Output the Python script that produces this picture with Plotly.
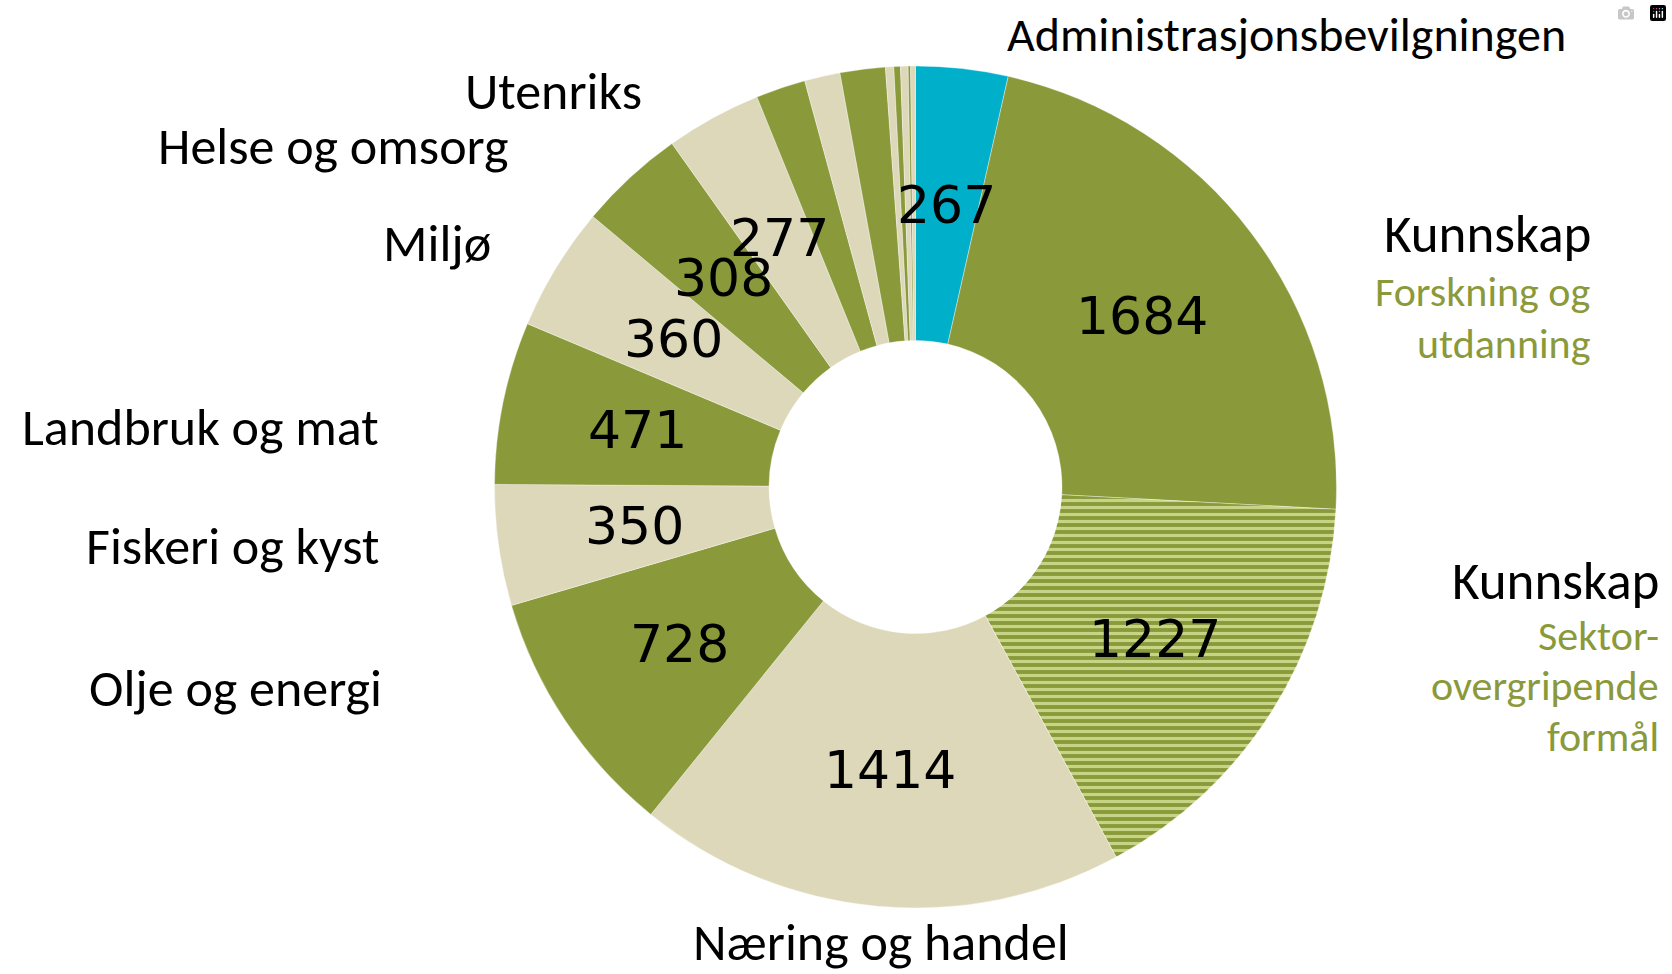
import numpy as np
import plotly.graph_objects as go

# ---- data (clockwise from 12 o'clock) ----
slice_names = ["Administrasjonsbevilgningen", "Kunnskap – Forskning og utdanning",
               "Kunnskap – Sektorovergripende formål", "Næring og handel", "Olje og energi",
               "Fiskeri og kyst", "Landbruk og mat", "Miljø", "Helse og omsorg", "Utenriks",
               "Øvrig 1", "Øvrig 2", "Øvrig 3", "Øvrig 4", "Øvrig 5", "Øvrig 6", "Øvrig 7", "Øvrig 8"]
slice_values = [267, 1684, 1227, 1414, 728, 350, 471, 360, 308, 277,
                144, 103, 131, 24, 19, 22, 7, 14]
value_labels = ["267", "1684", "1227", "1414", "728", "350", "471", "360", "308", "277",
                "", "", "", "", "", "", "", ""]
slice_kind = ["blue", "green", "stripe", "beige", "green", "beige", "green", "beige", "green", "beige",
              "green", "beige", "green", "beige", "green", "beige", "green", "beige"]

# ---- styles ----
GREEN = "#8A993A"
BEIGE = "#DDD8B9"
BLUE = "#00AFCA"
STRIPE_LIGHT = "#C6D585"
color_map = {"blue": BLUE, "green": GREEN, "stripe": GREEN, "beige": BEIGE}
colors = [color_map[k] for k in slice_kind]
shapes = ["-" if k == "stripe" else "" for k in slice_kind]
bgcols = [color_map[k] for k in slice_kind]

W, H = 1672, 974
CX, CY, R = 915.5, 487.0, 421.0   # pixel geometry of the ring
HOLE = 0.348

fig = go.Figure()
fig.add_trace(go.Pie(
    labels=slice_names, values=slice_values, sort=False, direction="clockwise", rotation=0,
    hole=HOLE, textinfo="none", hoverinfo="label+value", showlegend=False,
    marker=dict(colors=colors, line=dict(color="rgba(255,255,255,0.6)", width=0.6),
                pattern=dict(shape=shapes, fgcolor=STRIPE_LIGHT, bgcolor=bgcols,
                             size=7, solidity=0.45, fillmode="replace")),
    domain=dict(x=[(CX - R) / W, (CX + R) / W], y=[(H - CY - R) / H, (H - CY + R) / H]),
))

# value labels at mid-angle, mid-ring (computed from the data)
vals = np.array(slice_values, dtype=float)
cum = np.cumsum(vals)
mid = (cum - vals / 2) / vals.sum() * 2 * np.pi
rr = R * (1 + HOLE) / 2
annotations = []
for txt, a in zip(value_labels, mid):
    if not txt:
        continue
    px = CX + rr * np.sin(a)
    py = CY - rr * np.cos(a)
    annotations.append(dict(x=px / W, y=1 - py / H, xref="paper", yref="paper", text=txt,
                            showarrow=False, xanchor="center", yanchor="middle",
                            font=dict(family="DejaVu Sans, Verdana", size=52, color="black")))

# category labels
LBL_FONT = "Calibri, Carlito, Lato, sans-serif"
cat_labels = [
    # text, x(px), y(px), anchor, size, color
    ("Administrasjonsbevilgningen", 1005, 34, "left", 48, "black"),
    ("Kunnskap", 1593, 234, "right", 53, "black"),
    ("Forskning og", 1593, 291, "right", 42, GREEN),
    ("utdanning", 1593, 343, "right", 42, GREEN),
    ("Kunnskap", 1661, 581, "right", 53, "black"),
    ("Sektor-", 1661, 635, "right", 42, GREEN),
    ("overgripende", 1661, 685, "right", 42, GREEN),
    ("formål", 1661, 736, "right", 42, GREEN),
    ("Næring og handel", 881, 942, "center", 52, "black"),
    ("Olje og energi", 384, 688, "right", 52, "black"),
    ("Fiskeri og kyst", 381, 546, "right", 52, "black"),
    ("Landbruk og mat", 381, 427, "right", 52, "black"),
    ("Miljø", 493, 243, "right", 52, "black"),
    ("Helse og omsorg", 510, 146, "right", 52, "black"),
    ("Utenriks", 644, 91, "right", 52, "black"),
]
for txt, x, y, anc, size, col in cat_labels:
    annotations.append(dict(x=x / W, y=1 - y / H, xref="paper", yref="paper", text=txt,
                            showarrow=False, xanchor=anc, yanchor="middle",
                            font=dict(family=LBL_FONT, size=size, color=col)))

fig.update_layout(width=W, height=H, margin=dict(l=0, r=0, t=0, b=0),
                  paper_bgcolor="white", plot_bgcolor="white", annotations=annotations)

fig.write_html("out.html", post_script="document.body.style.margin='0px';document.body.style.overflow='hidden';")
